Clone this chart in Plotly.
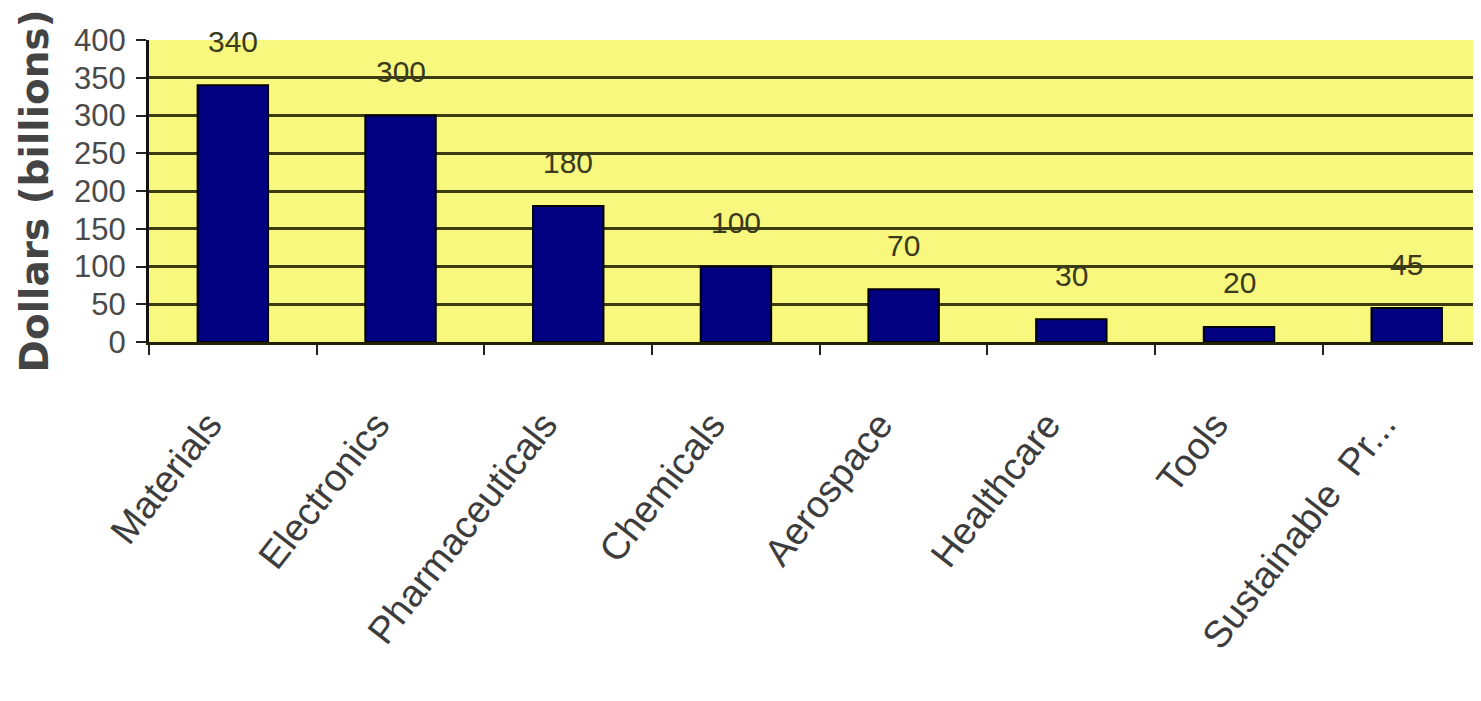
import plotly.graph_objects as go

categories = ["Materials", "Electronics", "Pharmaceuticals", "Chemicals",
              "Aerospace", "Healthcare", "Tools", "Sustainable  Pr..."]
values = [340, 300, 180, 100, 70, 30, 20, 45]
y_ticks = [0, 50, 100, 150, 200, 250, 300, 350, 400]
y_title = "Dollars (billions)"

FONT = "Liberation Sans, Arial, sans-serif"

fig = go.Figure()
fig.add_trace(go.Bar(
    x=categories, y=values, width=0.42,
    marker=dict(color="#000080", line=dict(color="#000000", width=2)),
    hoverinfo="x+y",
))

for c, v in zip(categories, values):
    fig.add_annotation(x=c, y=v, text=str(v), showarrow=False,
                       yanchor="middle", yshift=44,
                       font=dict(family=FONT, size=30, color="#3a3a1c"))

fig.add_annotation(xref="paper", yref="paper", x=-0.086, y=0.5,
                   text=f"<b>{y_title}</b>", textangle=-90, showarrow=False,
                   xanchor="center", yanchor="middle",
                   font=dict(family="DejaVu Sans, sans-serif", size=39, color="#444444"))

fig.update_layout(
    width=1473, height=693,
    margin=dict(l=141, r=0, t=32, b=359),
    paper_bgcolor="#ffffff",
    plot_bgcolor="#f8f87e",
    showlegend=False,
)
fig.update_xaxes(
    type="category", range=[-0.5, 7.443],
    tickson="boundaries", ticks="outside", ticklen=10, tickwidth=2, tickcolor="#222222",
    tickangle=-52,
    tickfont=dict(family=FONT, size=38, color="#3c3c3c"),
    ticklabelstandoff=42, ticklabelshift=-24,
    showline=True, linecolor="#222200", linewidth=3,
    showgrid=False, zeroline=False,
)
fig.update_yaxes(
    range=[0, 400], tickvals=y_ticks,
    ticks="outside", ticklen=10, tickwidth=2, tickcolor="#222222",
    tickfont=dict(family=FONT, size=31, color="#4a4a4a"),
    ticklabelstandoff=4,
    showline=True, linecolor="#111111", linewidth=3,
    showgrid=True, gridcolor="#3c3c12", gridwidth=3,
    zeroline=False,
)

fig.write_html("out.html")
